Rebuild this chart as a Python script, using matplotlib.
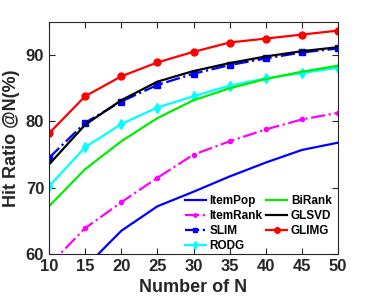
import numpy as np
import matplotlib
matplotlib.use('Agg')
import matplotlib.pyplot as plt

plt.rcParams['font.family'] = ['Liberation Sans', 'DejaVu Sans']
plt.rcParams['font.weight'] = 'bold'

N = [10, 15, 20, 25, 30, 35, 40, 45, 50]

item_pop = [52.0, 58.0, 63.5, 67.2, 69.4, 71.7, 73.8, 75.7, 76.8]
item_rank = [58.3, 63.9, 67.8, 71.5, 75.0, 77.0, 78.8, 80.3, 81.3]
slim = [74.5, 79.8, 83.0, 85.5, 87.2, 88.5, 89.5, 90.4, 91.0]
rodg = [70.2, 76.1, 79.6, 82.1, 83.8, 85.4, 86.5, 87.3, 88.1]
birank = [67.2, 72.8, 77.0, 80.5, 83.2, 85.0, 86.4, 87.5, 88.4]
glsvd = [73.5, 79.5, 83.2, 86.0, 87.6, 88.8, 89.8, 90.6, 91.2]
glimg = [78.2, 83.8, 86.8, 88.9, 90.5, 91.9, 92.5, 93.1, 93.7]

fig = plt.figure(figsize=(3.74, 3.01), dpi=100)
ax = fig.add_axes([0.131, 0.156, 0.773, 0.771])

ax.plot(N, item_pop, '-', color='#0000ff', lw=1.6, label='ItemPop')
ax.plot(N, item_rank, '-.', color='#ff00ff', lw=1.6, marker='.', ms=6, label='ItemRank')
ax.plot(N, slim, '-.', color='#0000ff', lw=1.6, marker='s', ms=4, label='SLIM')
ax.plot(N, rodg, '-', color='#00ffff', lw=1.6, marker='d', ms=5, label='RODG')
ax.plot(N, birank, '-', color='#00ee00', lw=1.6, label='BiRank')
ax.plot(N, glsvd, '-', color='black', lw=1.6, label='GLSVD')
ax.plot(N, glimg, '-', color='#ff0000', lw=1.6, marker='o', ms=5, label='GLIMG')

ax.set_xlim(10, 50)
ax.set_ylim(60, 95)
ax.set_xticks(N)
ax.set_yticks([60, 70, 80, 90])

ax.tick_params(direction='in', top=True, right=True, labelsize=12,
               colors='#262626', length=4, width=0.8)
for s in ax.spines.values():
    s.set_color('#262626')
    s.set_linewidth(0.8)

ax.set_xlabel('Number of N', fontsize=13, fontweight='bold', color='#262626')
ax.set_ylabel('Hit Ratio @N(%)', fontsize=13, fontweight='bold', color='#262626')

ax.legend(ncol=2, loc='lower right', bbox_to_anchor=(1.0, -0.018), frameon=False,
          fontsize=8.5, handlelength=1.8, columnspacing=0.3, labelspacing=0.25,
          handletextpad=0.3, borderaxespad=0.15, markerscale=0.8)

fig.savefig('out.png', dpi=100)
